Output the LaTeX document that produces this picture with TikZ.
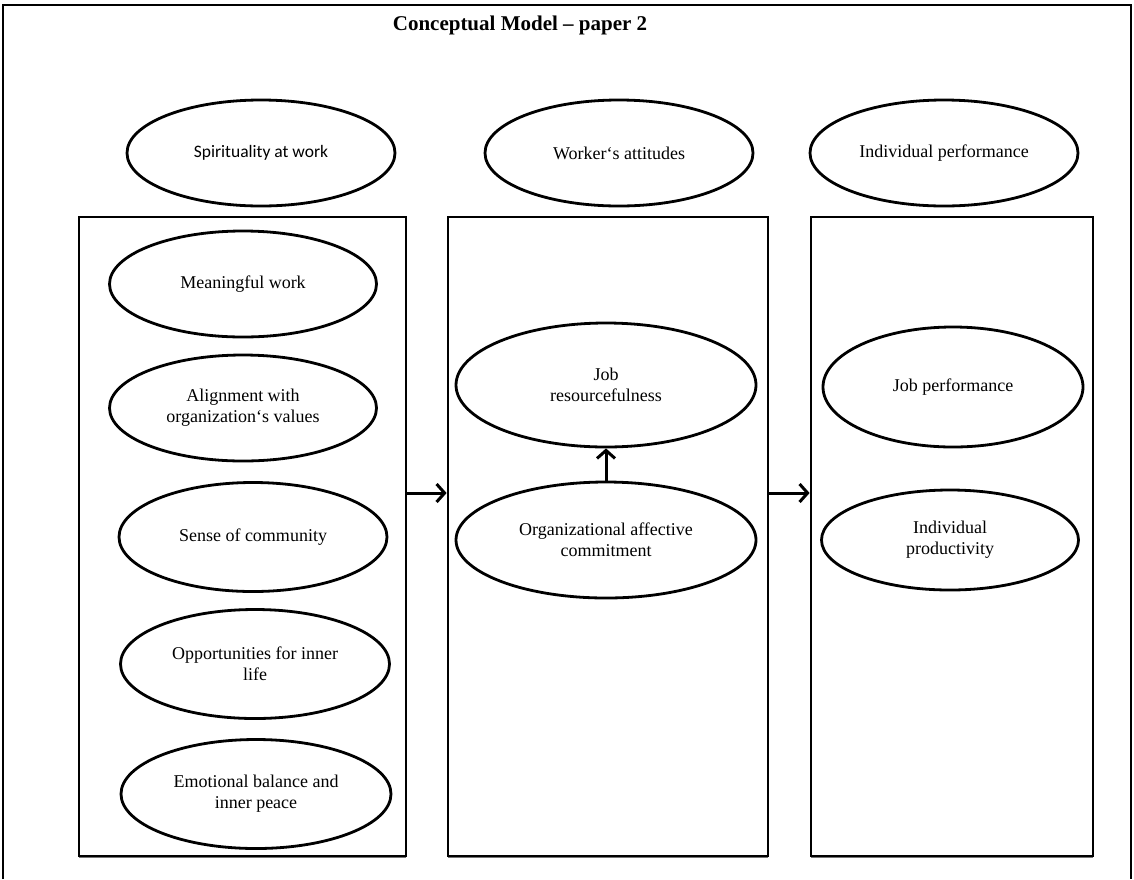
\documentclass[tikz,border=0pt]{standalone}
\usepackage{fontspec}
\setmainfont{Liberation Serif}
\newfontfamily\calibrifont{Carlito}
\usetikzlibrary{shapes.geometric,arrows.meta}
\begin{document}
\begin{tikzpicture}[x=1pt,y=-1pt,
  frame/.style={line width=1.8pt},
  oval/.style={ellipse, draw, line width=2.8pt, inner sep=0pt, align=center,
               font=\fontsize{18}{21}\selectfont},
  panel/.style={draw, line width=2.8pt, inner sep=0pt, minimum height=639pt},
  shade/.style={draw=black!55, line width=1.6pt},
  flow/.style={line width=3pt, -{Straight Barb[length=8pt,width=18pt,line width=3pt]}}]
\useasboundingbox (0,0) rectangle (1134,879);

% page frame
\draw[frame] (3,879) -- (3,5) -- (1131,5) -- (1131,879);

% title
\node[font=\bfseries\fontsize{21}{24}\selectfont] (title) at (520,25) {Conceptual Model -- paper 2};

% construct headings
\node[oval, minimum width=268pt, minimum height=106pt,
      font=\calibrifont\fontsize{17.5}{21}\selectfont] (spirit) at (261,153) {Spirituality at work};
\node[oval, minimum width=268pt, minimum height=106pt] (worker) at (619,153) {Worker\symbol{96}s attitudes};
\node[oval, minimum width=268pt, minimum height=106pt] (perf) at (944,153) {Individual performance};

% panels, each with a faint shadow under its lower edge
\foreach \p/\cx/\w in {p1/242.5/327, p2/608/320, p3/952/282}{
  \draw[shade] (\cx-\w/2,857.6) -- (\cx+\w/2,857.6);
  \node[panel, minimum width=\w pt] (\p) at (\cx,536.5) {};
}

% dimensions of spirituality at work
\node[oval, minimum width=267pt, minimum height=106pt] (mw) at (243,284) {Meaningful work};
\node[oval, minimum width=267pt, minimum height=106pt] (av) at (243,408) {Alignment with\\organization\symbol{96}s values};
\node[oval, minimum width=268pt, minimum height=109pt] (sc) at (253,537) {Sense of community};
\node[oval, minimum width=269pt, minimum height=109pt] (oi) at (255,664) {Opportunities for inner\\life};
\node[oval, minimum width=270pt, minimum height=109pt] (eb) at (256,794) {Emotional balance and\\inner peace};

% attitudes
\node[oval, minimum width=300pt, minimum height=124pt] (jr) at (606,385) {Job\\resourcefulness};
\node[oval, minimum width=300pt, minimum height=116pt] (oac) at (606,540) {Organizational affective\\commitment};

% performance
\node[oval, minimum width=260pt, minimum height=120pt] (jp) at (953,387) {Job performance};
\node[oval, minimum width=257pt, minimum height=100pt] (ip) at (950,540) {Individual\\productivity};

% relations
\draw[flow] (oac.north) -- (jr.south);
\draw[flow] (p1.east |- 0,493) -- (p2.west |- 0,493);
\draw[flow] (p2.east |- 0,493) -- (p3.west |- 0,493);
\end{tikzpicture}
\end{document}
